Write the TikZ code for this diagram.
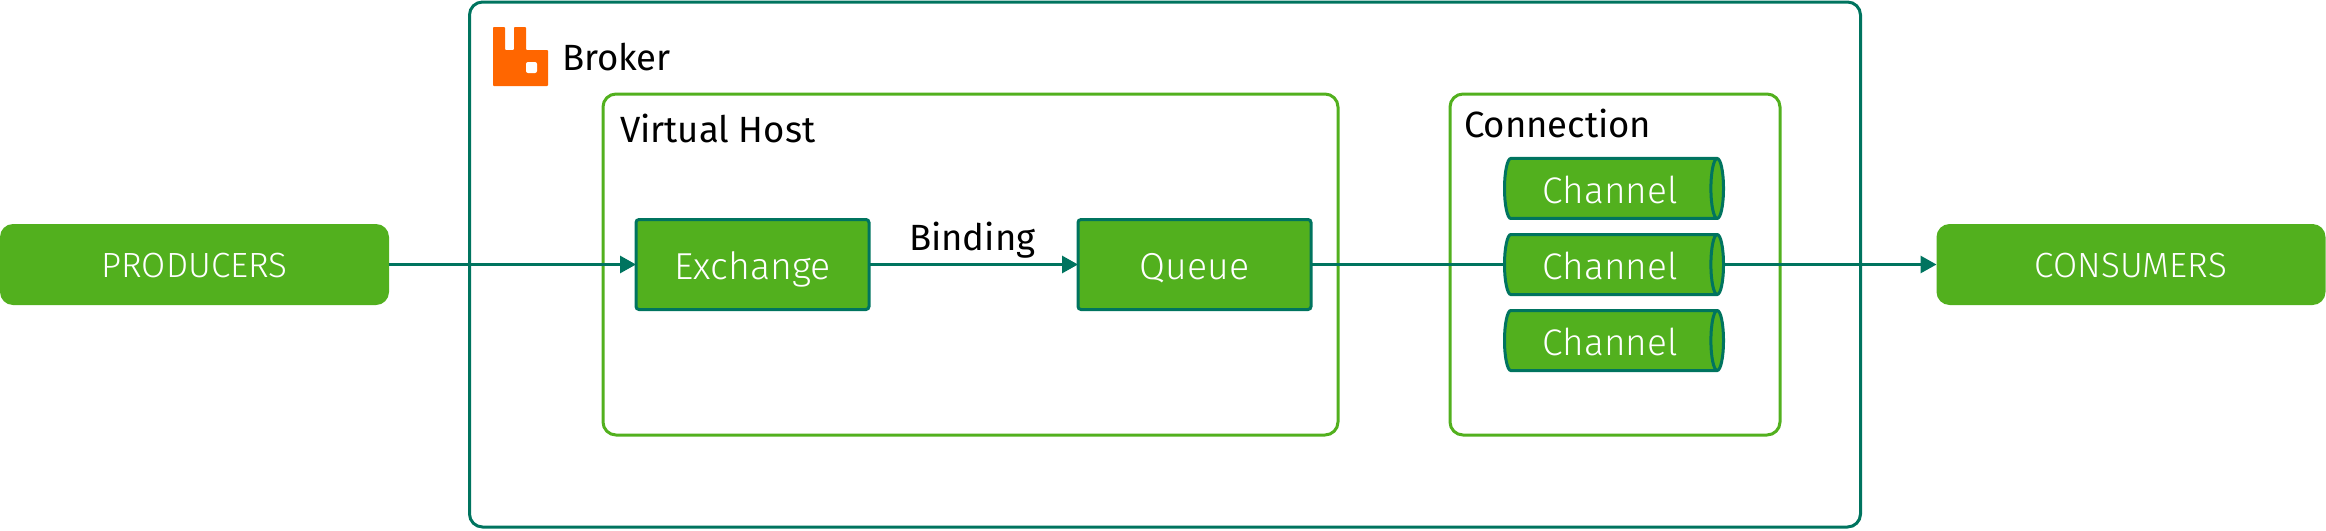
\documentclass[tikz,border=0pt]{standalone}
\usepackage{fontspec}
\setmainfont{Fira Sans}
\newfontfamily\lightfont{Fira Sans Light}
\usepackage{xcolor}
\usepackage{tikz}
\usetikzlibrary{arrows.meta,positioning,calc,shapes.geometric}
\definecolor{brokerteal}{HTML}{00745F}
\definecolor{hostgreen}{HTML}{52B01E}
\definecolor{logoorange}{HTML}{FF6600}

\begin{document}
\begin{tikzpicture}[
  x=1pt, y=1pt,
  outer sep=0pt,
  broker/.style={draw=brokerteal, line width=3pt, rounded corners=13pt,
    minimum width=1391pt, minimum height=525pt},
  group/.style={draw=hostgreen, line width=3pt, rounded corners=13pt},
  client/.style={fill=hostgreen, rounded corners=13pt, minimum width=389pt,
    minimum height=81pt, text=white, text height=25pt, text depth=0pt,
    font=\lightfont\fontsize{35}{39}\selectfont},
  entity/.style={draw=brokerteal, fill=hostgreen, line width=3pt, rounded corners=3pt,
    minimum width=233pt, minimum height=90pt, text=white, text height=29pt, text depth=0pt,
    font=\lightfont\fontsize{37.5}{42}\selectfont},
  channel/.style={shape=cylinder, draw=brokerteal, fill=hostgreen, line width=3pt,
    aspect=0.42, minimum width=60pt, minimum height=219pt, inner sep=0pt,
    text=white, text height=30pt, text depth=0pt,
    font=\lightfont\fontsize{37}{42}\selectfont},
  title/.style={anchor=base west, inner sep=0pt, text=black, font=\fontsize{36.5}{41}\selectfont},
  link/.style={-{Triangle[length=16pt,width=17pt]}, line width=3pt, draw=brokerteal},
  plain/.style={line width=3pt, draw=brokerteal}
]
  \useasboundingbox (0,0) rectangle (2326,-530);

  \node[broker] (broker) at (1165,-264.5) {};
  \node[group, minimum width=735pt, minimum height=341pt] (vhost) at (970.5,-264.5) {};
  \node[group, minimum width=330pt, minimum height=341pt] (connection) at (1615,-264.5) {};

  \node[client] (producers) at (194.5,-264.5) {PRODUCERS};
  \node[entity, right=247pt of producers] (exchange) {Exchange};
  \node[entity, right=209pt of exchange] (queue) {Queue};
  \node[channel, right=193.5pt of queue] (channeltwo) {Channel};
  \node[channel, above=16pt of channeltwo] (channelone) {Channel};
  \node[channel, below=16pt of channeltwo] (channelthree) {Channel};
  \node[client, right=213pt of channeltwo] (consumers) {CONSUMERS};

  \node[title] (brokerlabel) at (562,-70) {Broker};
  \node[title] (vhostlabel) at (620,-142) {Virtual Host};
  \node[title] (connectionlabel) at (1464,-137) {Connection};
  \node[title] (bindinglabel) at (909,-250) {Binding};

  \fill[logoorange, rounded corners=0.8pt] (493,-27) -- (505,-27) -- (505,-50) -- (514,-50)
    -- (514,-27) -- (526,-27) -- (526,-50) -- (548,-50) -- (548,-86) -- (493,-86) -- cycle;
  \fill[white, rounded corners=2pt] (526,-62) rectangle (537,-73);

  \draw[link] (producers) -- (exchange);
  \draw[link] (exchange) -- (queue);
  \draw[plain] (queue) -- (channeltwo);
  \draw[link] (channeltwo) -- (consumers);
\end{tikzpicture}
\end{document}
